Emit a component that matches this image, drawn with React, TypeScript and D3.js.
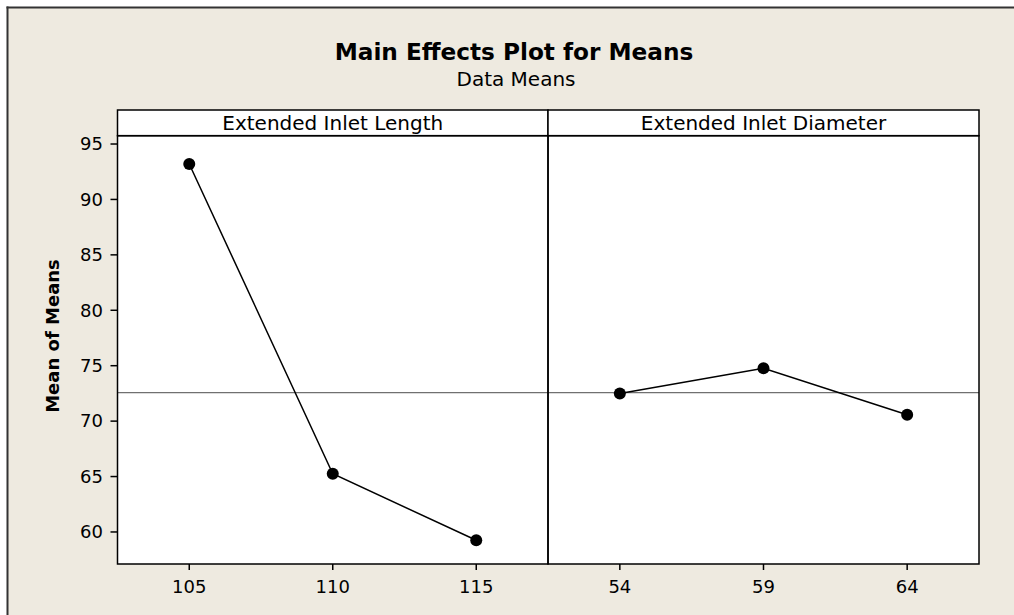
import React from "react";
import * as d3 from "d3";

const lengthLevels = ["105", "110", "115"];
const lengthMeans = [93.2, 65.25, 59.25];
const diameterLevels = ["54", "59", "64"];
const diameterMeans = [72.5, 74.77, 70.58];
const yTicks = [60, 65, 70, 75, 80, 85, 90, 95];
const panelTitles = ["Extended Inlet Length", "Extended Inlet Diameter"];

const W = 1014;
const H = 615;
const FONT = "'DejaVu Sans', Verdana, sans-serif";

export default function App() {
  const left = 117.5;
  const mid = 548;
  const right = 979;
  const stripTop = 110;
  const plotTop = 135.7;
  const plotBottom = 564;

  const y = d3.scaleLinear().domain([57.11, 95.75]).range([plotBottom, plotTop]);
  const x1 = d3.scalePoint<string>().domain(lengthLevels).range([left, mid]).padding(0.5);
  const x2 = d3.scalePoint<string>().domain(diameterLevels).range([mid, right]).padding(0.5);
  const grand = d3.mean(lengthMeans) as number;

  const panels = [
    { x: x1, levels: lengthLevels, vals: lengthMeans, x0: left, x1: mid, title: panelTitles[0] },
    { x: x2, levels: diameterLevels, vals: diameterMeans, x0: mid, x1: right, title: panelTitles[1] },
  ];

  return (
    <svg width={W} height={H} style={{ position: "absolute", left: 0, top: 0 }} fontFamily={FONT}>
      <rect x={0} y={0} width={W} height={H} fill="#ffffff" />
      <rect x={7.5} y={7.5} width={W} height={H} fill="#EEEAE0" />
      <line x1={7.5} x2={7.5} y1={6.5} y2={H} stroke="#333" strokeWidth={2} />
      <line x1={6.5} x2={W} y1={7.5} y2={7.5} stroke="#333" strokeWidth={2} />
      <text x={514} y={60} textAnchor="middle" fontWeight="bold" fontSize={23.2} fill="#000">
        Main Effects Plot for Means
      </text>
      <text x={516} y={86} textAnchor="middle" fontSize={20} fill="#000">
        Data Means
      </text>
      <rect x={left} y={plotTop} width={right - left} height={plotBottom - plotTop} fill="#ffffff" />
      <line x1={left} x2={right} y1={y(grand)} y2={y(grand)} stroke="#707070" strokeWidth={1.3} />
      {panels.map((p, i) => {
        const line = d3
          .line<number>()
          .x((_, j) => p.x(p.levels[j]) as number)
          .y((v) => y(v));
        return (
          <g key={i}>
            <rect x={p.x0} y={stripTop} width={p.x1 - p.x0} height={plotTop - stripTop} fill="#ffffff" stroke="#000" strokeWidth={1.5} />
            <text x={(p.x0 + p.x1) / 2} y={130} textAnchor="middle" fontSize={20} fill="#000">
              {p.title}
            </text>
            <rect x={p.x0} y={plotTop} width={p.x1 - p.x0} height={plotBottom - plotTop} fill="none" stroke="#000" strokeWidth={1.5} />
            <path d={line(p.vals) || ""} fill="none" stroke="#000" strokeWidth={1.5} />
            {p.vals.map((v, j) => (
              <circle key={j} cx={p.x(p.levels[j]) as number} cy={y(v)} r={6} fill="#000" />
            ))}
            {p.levels.map((lv) => (
              <g key={lv}>
                <line x1={p.x(lv) as number} x2={p.x(lv) as number} y1={plotBottom} y2={plotBottom + 6} stroke="#000" strokeWidth={1.5} />
                <text x={p.x(lv) as number} y={593} textAnchor="middle" fontSize={18} fill="#000">
                  {lv}
                </text>
              </g>
            ))}
          </g>
        );
      })}
      {yTicks.map((t) => (
        <g key={t}>
          <line x1={left - 7} x2={left} y1={y(t)} y2={y(t)} stroke="#000" strokeWidth={1.5} />
          <text x={103} y={y(t)} dy="0.35em" textAnchor="end" fontSize={18} fill="#000">
            {t}
          </text>
        </g>
      ))}
      <text
        transform={`translate(59, 336) rotate(-90)`}
        textAnchor="middle"
        fontWeight="bold"
        fontSize={18}
        fill="#000"
      >
        Mean of Means
      </text>
    </svg>
  );
}
